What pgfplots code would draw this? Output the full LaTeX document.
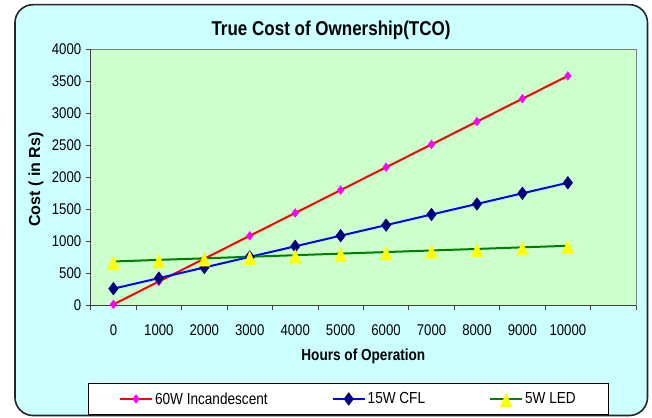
\documentclass[border=0pt]{standalone}
\usepackage{pgfplots}
\pgfplotsset{compat=1.18}
\usepackage{fontspec}
\setmainfont{Liberation Sans}[FakeStretch=0.85]
\newfontfamily\ylabfont{Liberation Sans}
\definecolor{bgc}{HTML}{CCFFFF}
\definecolor{plotc}{HTML}{CCFFCC}
\definecolor{incred}{HTML}{FF0000}
\definecolor{incmag}{HTML}{FF00FF}
\definecolor{cflblue}{HTML}{0000FF}
\definecolor{cflnavy}{HTML}{000080}
\definecolor{ledgreen}{HTML}{008000}
\definecolor{ledyellow}{HTML}{FFFF00}

\pgfplotstableread{
x inc cfl led
0  10   255  680
1  367  420  705
2  724  586  729
3  1081 752  754
4  1438 917  778
5  1795 1083 803
6  2152 1248 827
7  2509 1414 852
8  2866 1579 876
9  3223 1745 901
10 3580 1910 925
}\tco

\begin{document}
\begin{tikzpicture}[x=1pt,y=1pt]
\path[use as bounding box] (0,0) rectangle (652,417);
\draw[line width=1.6pt, rounded corners=18pt, fill=bgc, draw=black!85] (15,1.5) rectangle (647.5,412.3);
\node[font=\fontsize{20}{24}\selectfont\bfseries, anchor=base] at (331,381) {True Cost of Ownership(TCO)};
\begin{axis}[
  at={(90.7pt,112pt)}, anchor=south west, scale only axis,
  width=545.3pt, height=256pt,
  xmin=-0.5, xmax=11.5, ymin=0, ymax=4000,
  xtick={-0.5,0.5,1.5,2.5,3.5,4.5,5.5,6.5,7.5,8.5,9.5,10.5,11.5},
  x tick label as interval,
  xticklabels={0,1000,2000,3000,4000,5000,6000,7000,8000,9000,10000,{}},
  ytick={0,500,...,4000},
  tick align=outside, major tick length=5pt,
  xtick pos=bottom, ytick pos=left,
  axis background/.style={fill=plotc},
  axis line style={draw=gray, line width=0.8pt},
  tick style={draw=black!75, line width=0.8pt},
  ticklabel style={font=\fontsize{15.5}{18}\selectfont},
  /pgf/number format/assume math mode=true,
  scaled y ticks=false,
  y tick label style={/pgf/number format/1000 sep={}, xshift=-1pt},
  x tick label style={yshift=-11pt},
  xlabel={Hours of Operation},
  xlabel style={font=\fontsize{16}{19}\selectfont\bfseries, at={(axis description cs:0.5,-0.2)}, anchor=center},
  ylabel={Cost ( in Rs)},
  ylabel style={font=\fontsize{16}{19}\ylabfont\bfseries, at={(axis description cs:-0.1003,0.49)}, anchor=center},
  clip=false,
  legend columns=3,
  legend style={at={(axis description cs:0.4726,-0.367)}, anchor=center, draw=black, fill=white, line width=0.8pt,
    font=\fontsize{16}{19}\selectfont, inner xsep=31pt, inner ysep=7pt,
    /tikz/every even column/.append style={column sep=62pt}},
  legend image code/.code={\draw[mark repeat=2,mark phase=2,#1] plot coordinates {(0pt,0pt) (16pt,0pt) (32pt,0pt)};},
]
\addplot[color=incred, line width=2pt, mark=diamond*, mark size=4.3pt, mark options={fill=incmag, draw=incmag, line width=0.5pt}] table[x=x,y=inc] {\tco};
\addlegendentry{60W Incandescent}
\addplot[color=cflblue, line width=2pt, mark=diamond*, mark size=6.3pt, mark options={fill=cflnavy, draw=cflnavy, line width=0.5pt}] table[x=x,y=cfl] {\tco};
\addlegendentry{15W CFL}
\addplot[color=ledgreen, line width=2pt, mark=triangle*, mark size=6.9pt, mark options={fill=ledyellow, draw=ledyellow, line width=0.1pt, yscale=1.35, yshift=-2.5pt}] table[x=x,y=led] {\tco};
\addlegendentry{5W LED}
\draw[black!75, line width=0.9pt] (rel axis cs:0,1) -- (rel axis cs:0,0) -- (rel axis cs:1,0);
\end{axis}
\end{tikzpicture}
\end{document}
